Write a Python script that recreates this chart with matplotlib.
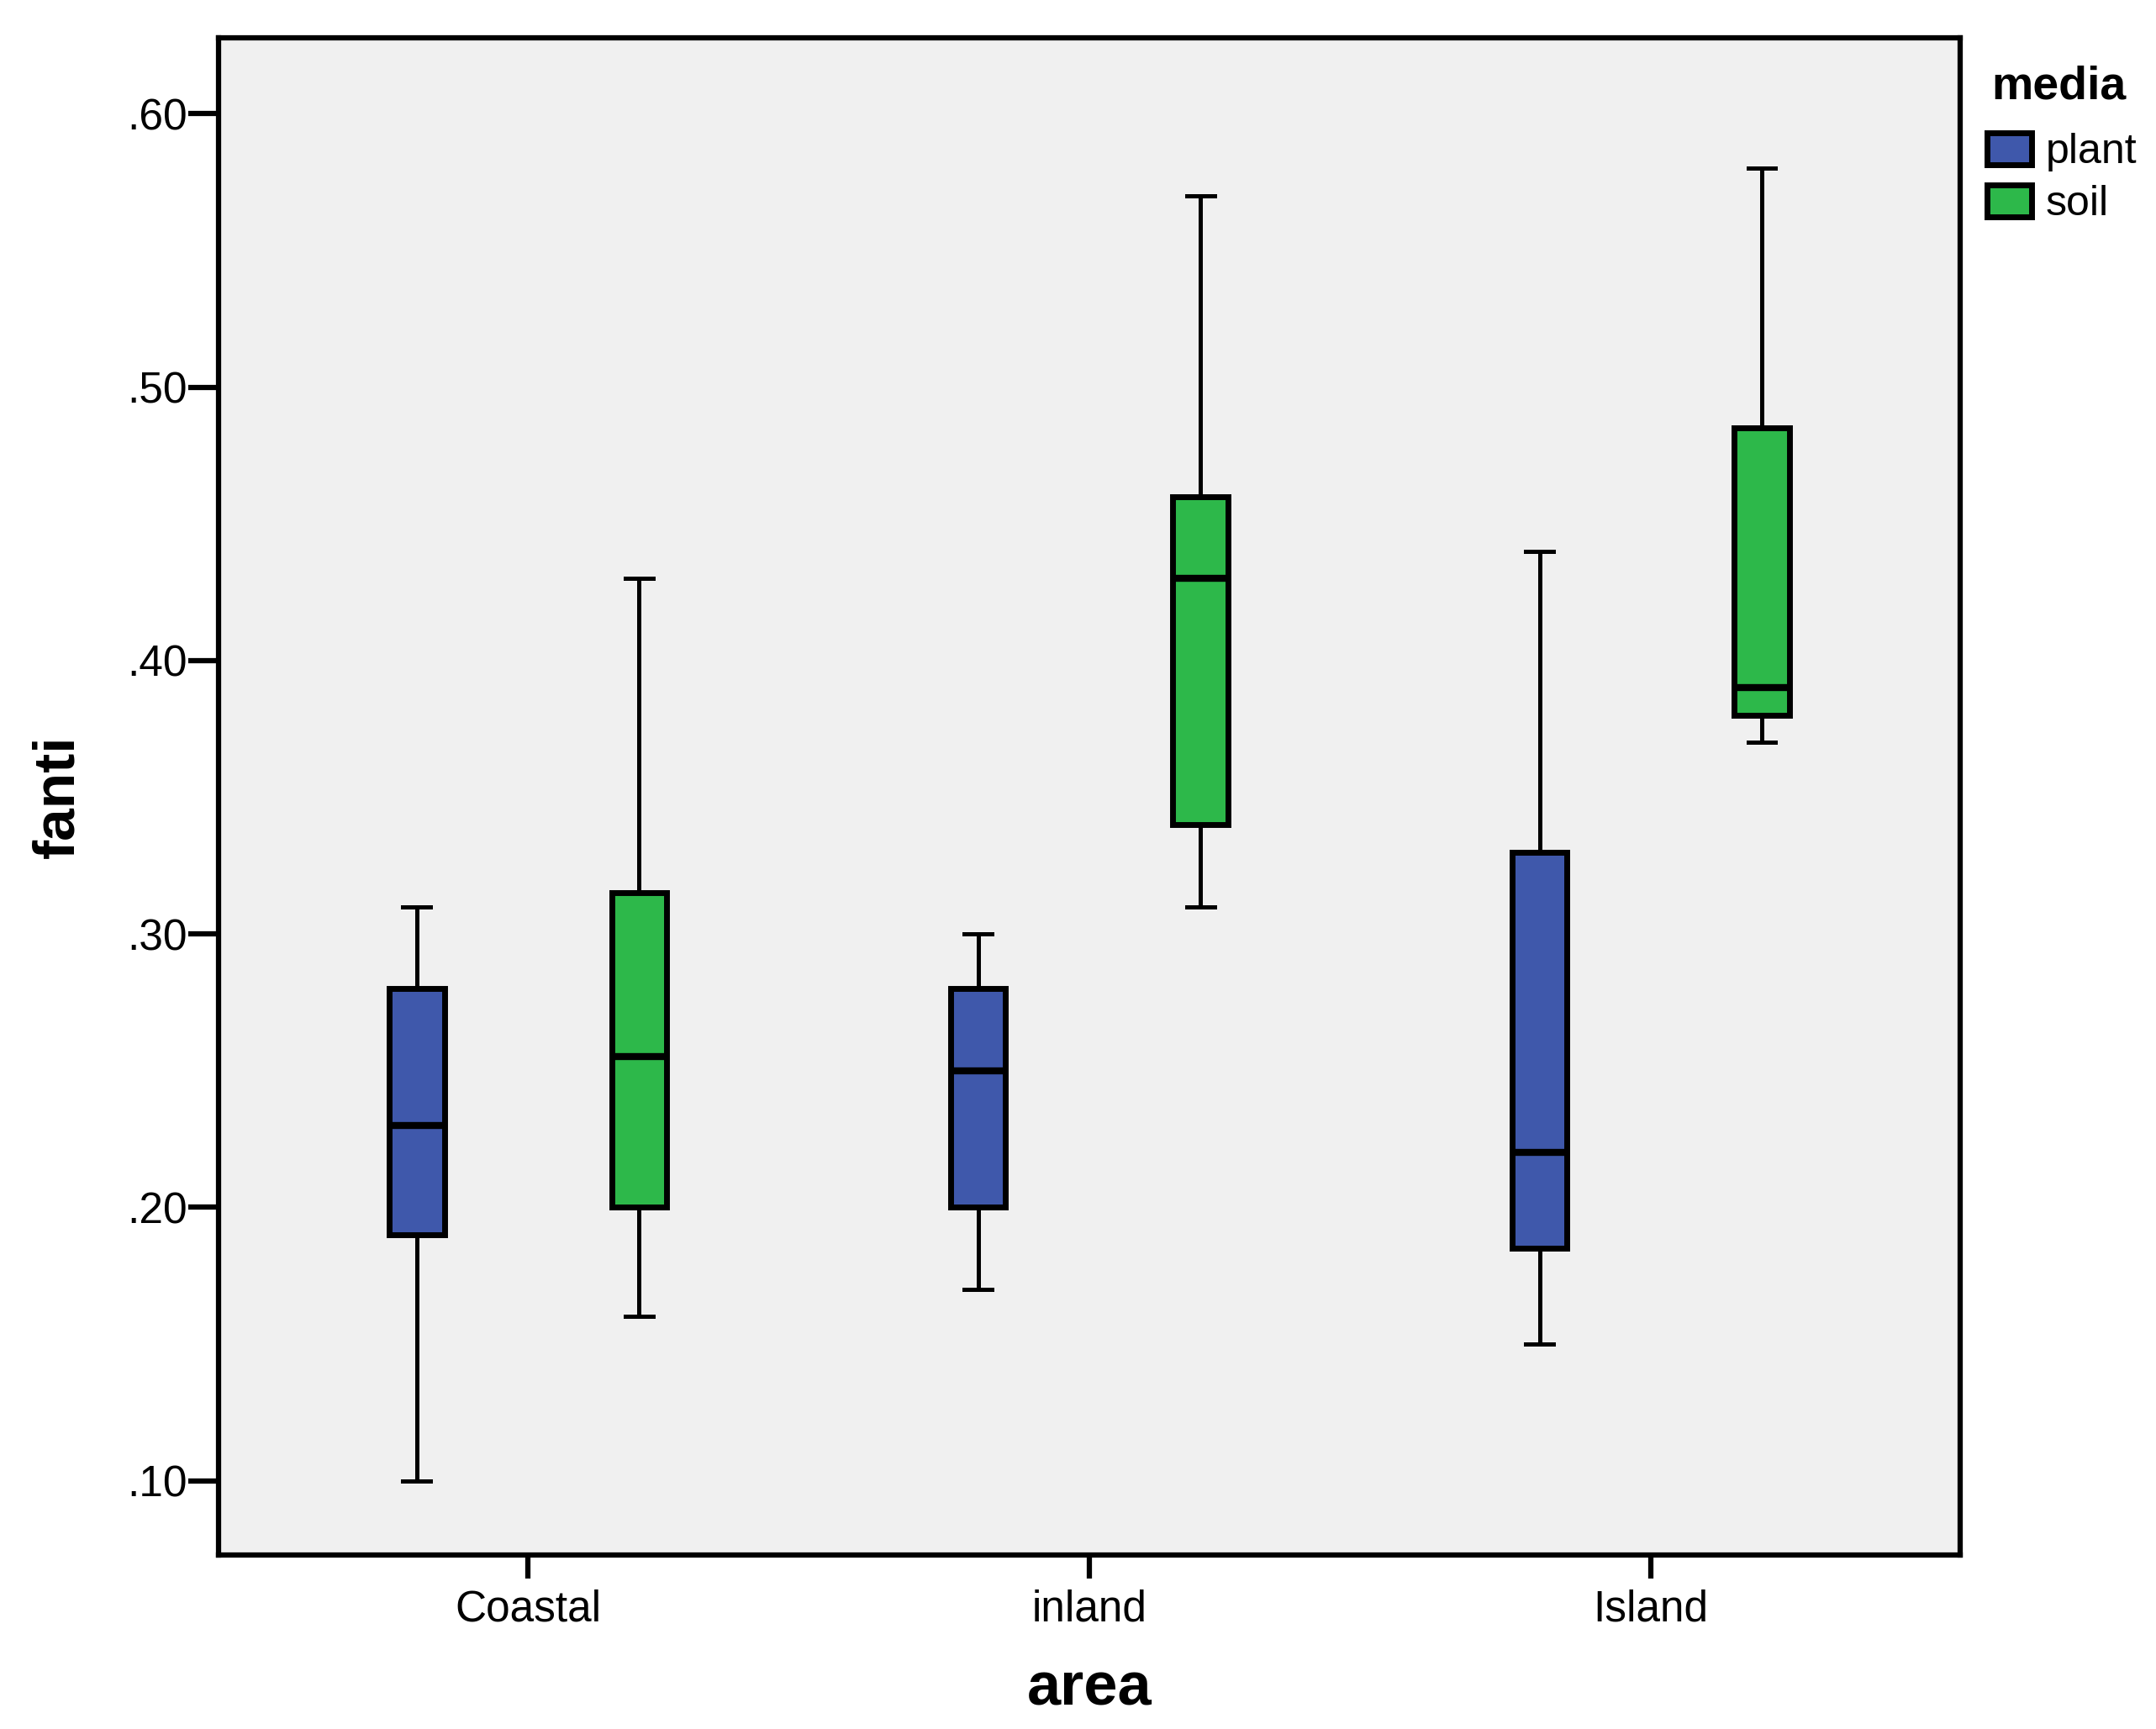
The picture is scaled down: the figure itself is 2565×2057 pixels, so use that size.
import matplotlib.pyplot as plt
from matplotlib.patches import Patch

plt.rcParams['font.family'] = ['Liberation Sans', 'DejaVu Sans']

areas = ['Coastal', 'inland', 'Island']
media = ['plant', 'soil']
colors = {'plant': '#3F58AB', 'soil': '#2DB84A'}

# five-number summaries: low whisker, q1, median, q3, high whisker
plant_low = [0.10, 0.17, 0.15]
plant_q1 = [0.19, 0.20, 0.185]
plant_med = [0.23, 0.25, 0.22]
plant_q3 = [0.28, 0.28, 0.33]
plant_high = [0.31, 0.30, 0.44]

soil_low = [0.16, 0.31, 0.37]
soil_q1 = [0.20, 0.34, 0.38]
soil_med = [0.255, 0.43, 0.39]
soil_q3 = [0.315, 0.46, 0.485]
soil_high = [0.43, 0.57, 0.58]

yticks = [0.10, 0.20, 0.30, 0.40, 0.50, 0.60]
ytick_labels = ['.10', '.20', '.30', '.40', '.50', '.60']


def make_stats(low, q1, med, q3, high):
    return [dict(whislo=a, q1=b, med=c, q3=d, whishi=e, fliers=[])
            for a, b, c, d, e in zip(low, q1, med, q3, high)]


fig = plt.figure(figsize=(25.65, 20.57), dpi=100)
ax = fig.add_axes([0.1014, 0.1006, 0.9091 - 0.1014, 0.978 - 0.1006])
ax.set_facecolor('#F0F0F0')

groups = {
    'plant': make_stats(plant_low, plant_q1, plant_med, plant_q3, plant_high),
    'soil': make_stats(soil_low, soil_q1, soil_med, soil_q3, soil_high),
}
offsets = {'plant': -0.198, 'soil': 0.198}
box_w = 0.098

for m in media:
    pos = [i + offsets[m] for i in range(len(areas))]
    ax.bxp(groups[m], positions=pos, widths=box_w, capwidths=box_w / 2,
           patch_artist=True, showfliers=False,
           boxprops=dict(facecolor=colors[m], edgecolor='black', linewidth=5),
           medianprops=dict(color='black', linewidth=6, solid_capstyle='butt'),
           whiskerprops=dict(color='black', linewidth=3.6),
           capprops=dict(color='black', linewidth=3.6))

ax.set_xlim(-0.551, 2.551)
ax.set_ylim(0.0728, 0.6277)
ax.set_xticks(range(len(areas)))
ax.set_xticklabels(areas)
ax.set_yticks(yticks)
ax.set_yticklabels(ytick_labels)

for s in ax.spines.values():
    s.set_linewidth(4.5)
ax.tick_params(axis='y', length=26, width=4.5, pad=1, labelsize=37)
ax.tick_params(axis='x', length=20, width=4.5, pad=9, labelsize=37)

ax.set_xlabel('area', fontsize=52, fontweight='bold', labelpad=26)
ax.set_ylabel('fanti', fontsize=50, fontweight='bold', labelpad=36)

# legend title drawn on its own so the gap above the entries matches
fig.text(2369 / 2565, 1 - 103 / 2057, 'media', fontsize=40, fontweight='bold',
         ha='left', va='center')
handles = [Patch(facecolor=colors[m], edgecolor='black', linewidth=5, label=m)
           for m in media]
fig.legend(handles=handles, loc='upper left',
           bbox_to_anchor=(2364 / 2565, 1 - 158 / 2057), frameon=False,
           borderpad=0, borderaxespad=0,
           fontsize=36, handlelength=1.05, handleheight=0.8,
           handletextpad=0.35, labelspacing=0.3)

fig.savefig('out.png', dpi=100)
